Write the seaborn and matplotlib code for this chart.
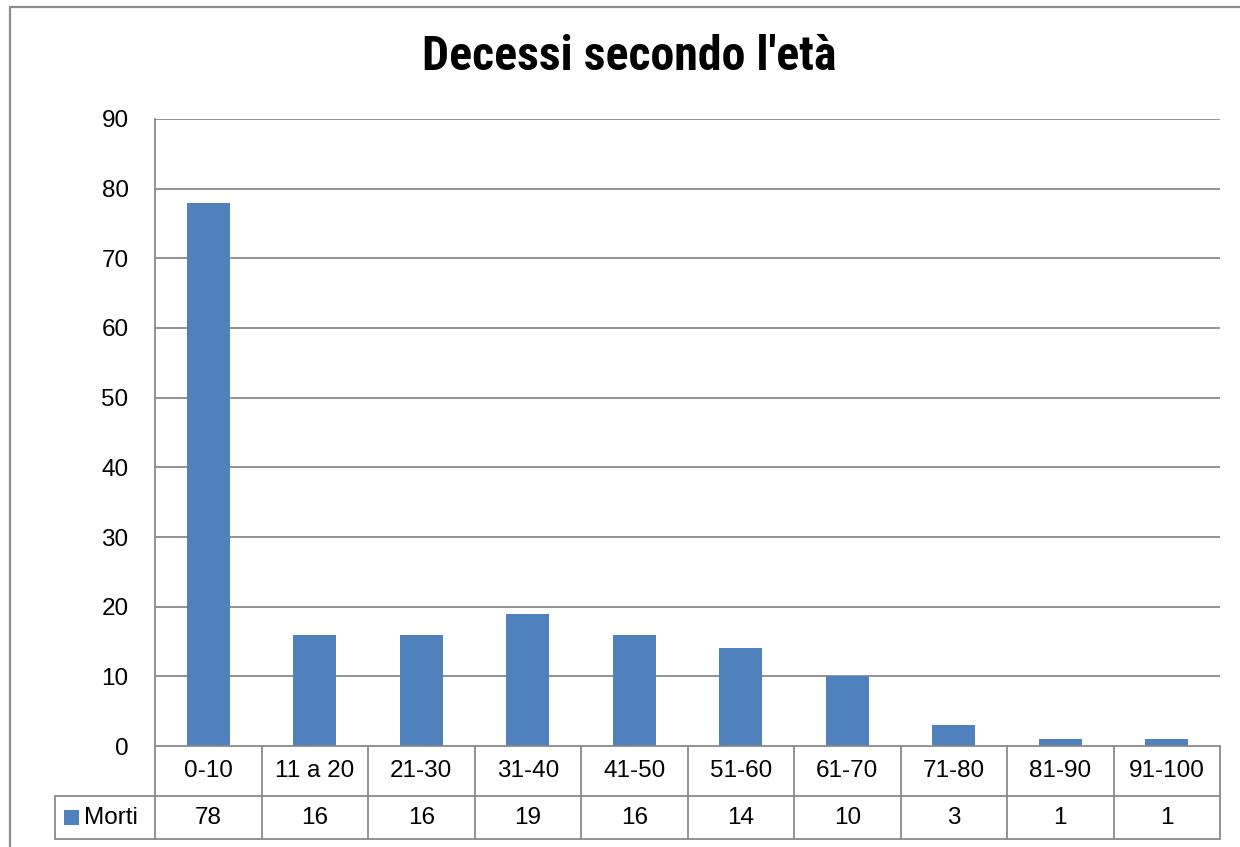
import matplotlib
matplotlib.use("Agg")
import matplotlib.pyplot as plt
from matplotlib import font_manager
from matplotlib.lines import Line2D
from matplotlib.patches import Rectangle
import seaborn as sns
import pandas as pd

categories = ["0-10", "11 a 20", "21-30", "31-40", "41-50", "51-60", "61-70", "71-80", "81-90", "91-100"]
morti = [78, 16, 16, 19, 16, 14, 10, 3, 1, 1]
series_name = "Morti"
title = "Decessi secondo l'età"
yticks = [0, 10, 20, 30, 40, 50, 60, 70, 80, 90]

sns.set_theme(style="white")
names = {f.name for f in font_manager.fontManager.ttflist}
base = "Liberation Sans" if "Liberation Sans" in names else "DejaVu Sans"
narrow = base
for cand in ["Liberation Sans Narrow", "Roboto Condensed", "Open Sans Condensed", "DejaVu Sans Condensed"]:
    if cand in names:
        narrow = cand
        break
plt.rcParams["font.family"] = [base, "DejaVu Sans"]

W, H = 1240, 847
fig = plt.figure(figsize=(W / 100, H / 100), dpi=100)
fig.patch.set_facecolor("white")

L, R, T, B = 155, 1220, 119, 746
ax = fig.add_axes([L / W, 1 - B / H, (R - L) / W, (B - T) / H])

df = pd.DataFrame({"cat": categories, "val": morti})
BLUE = "#4F81BD"
GRID = "#8A8A8A"
FS = 17.5
sns.barplot(data=df, x="cat", y="val", color=BLUE, width=0.4, saturation=1, linewidth=0, ax=ax)

ax.set_ylim(0, 90)
ax.set_xlim(-0.5, len(categories) - 0.5)
ax.set_yticks(yticks)
ax.set_yticklabels([str(v) for v in yticks], fontsize=FS, color="black")
ax.tick_params(axis="y", length=0, pad=19)
ax.set_xticks([])
ax.set_xlabel("")
ax.set_ylabel("")
for y in yticks[1:]:
    ax.axhline(y, color=GRID, lw=1.3, zorder=0)
for s in ["top", "right", "bottom"]:
    ax.spines[s].set_visible(False)
ax.spines["left"].set_color(GRID)
ax.spines["left"].set_linewidth(1.3)
ax.set_facecolor("white")

# data table below the plot area (pixel layout converted to axes fraction)
ph = B - T
r1 = (B - 796) / ph
r2 = (B - 839) / ph
xleft_row2 = (55 - L) / (R - L)
n = len(categories)
tb = ax.get_xaxis_transform()
kw = dict(color=GRID, lw=1.3, clip_on=False)
ax.plot([-0.5, n - 0.5], [0, 0], transform=tb, **kw)
ax.plot([-0.5, n - 0.5], [r1, r1], transform=tb, **kw)
ax.plot([-0.5, n - 0.5], [r2, r2], transform=tb, **kw)
ax.plot([xleft_row2, 0], [r1, r1], transform=ax.transAxes, **kw)
ax.plot([xleft_row2, 0], [r2, r2], transform=ax.transAxes, **kw)
ax.plot([xleft_row2, xleft_row2], [r1, r2], transform=ax.transAxes, **kw)
for i in range(n + 1):
    ax.plot([i - 0.5, i - 0.5], [0, r2], transform=tb, **kw)
for i, (c, v) in enumerate(zip(categories, morti)):
    ax.text(i, r1 / 2, c, transform=tb, ha="center", va="center", fontsize=FS, color="black")
    ax.text(i, (r1 + r2) / 2, str(v), transform=tb, ha="center", va="center", fontsize=FS, color="black")
key_x = (64 - L) / (R - L)
key_w = 15 / (R - L)
key_h = 15 / ph
ymid = (r1 + r2) / 2
ax.add_patch(Rectangle((key_x, ymid - key_h / 2), key_w, key_h, transform=ax.transAxes,
                       facecolor=BLUE, edgecolor="none", clip_on=False))
ax.text((84 - L) / (R - L), ymid, series_name, transform=ax.transAxes, ha="left", va="center",
        fontsize=FS, color="black")

# title
fig.text(629 / W, 1 - 57 / H, title, ha="center", va="center", fontsize=34.5,
         fontweight="bold", family=[narrow, "DejaVu Sans"], color="black")

# outer chart frame
fig.add_artist(Line2D([10 / W, 10 / W], [1 - 7 / H, 0], color="#8C8C8C", lw=1.6))
fig.add_artist(Line2D([10 / W, 1], [1 - 7 / H, 1 - 7 / H], color="#8C8C8C", lw=1.6))

fig.savefig("out.png", dpi=100, facecolor="white")
